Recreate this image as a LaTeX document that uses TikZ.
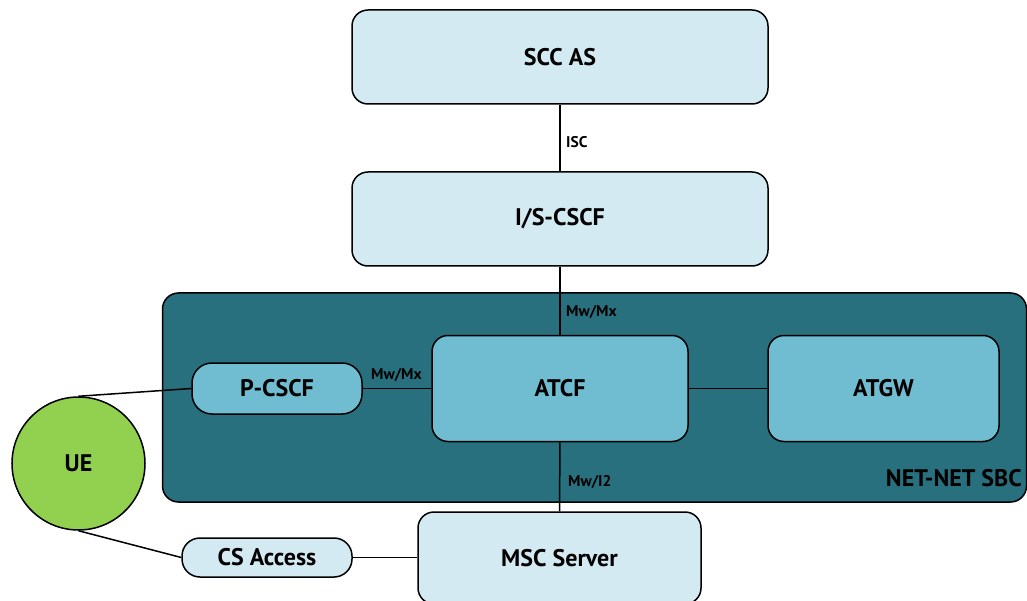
\documentclass[tikz,border=0pt]{standalone}
\usepackage{fontspec}
\setmainfont{PT Sans}
\definecolor{lightbox}{HTML}{D3EAF2}
\definecolor{midbox}{HTML}{70BCD1}
\definecolor{sbcfill}{HTML}{28707E}
\definecolor{uegreen}{HTML}{92D050}
\begin{document}
\begin{tikzpicture}[x=1pt,y=-1pt,
  box/.style={draw=black, line width=1.5pt, rounded corners=16pt, align=center, inner sep=0pt, font=\fontsize{24}{26}\selectfont\bfseries},
  lbox/.style={box, fill=lightbox},
  mbox/.style={box, fill=midbox},
  conn/.style={line width=1.5pt, draw=black},
  iflabel/.style={font=\fontsize{15.5}{17}\selectfont\bfseries, anchor=west, inner sep=0pt}
]
\useasboundingbox (0,0) rectangle (1027,601);
% SBC container
\node[draw=black, line width=1.5pt, fill=sbcfill, rounded corners=16pt, minimum width=864pt, minimum height=209pt, inner sep=0pt] (sbc) at (594.5,397.5) {};
\node[anchor=east, inner sep=0pt, font=\fontsize{24}{26}\selectfont\bfseries] (sbclabel) at (1022,478) {NET-NET SBC};
% boxes
\node[lbox, minimum width=416pt, minimum height=94pt] (scc) at (560,57) {SCC AS};
\node[lbox, minimum width=416pt, minimum height=94pt] (iscscf) at (560,219) {I/S-CSCF};
\node[mbox, minimum width=256pt, minimum height=106pt] (atcf) at (560,388.5) {ATCF};
\node[mbox, minimum width=231pt, minimum height=106pt] (atgw) at (883.5,388.5) {ATGW};
\node[mbox, minimum width=170pt, minimum height=51pt, rounded corners=20pt] (pcscf) at (277,388.5) {P-CSCF};
\node[lbox, minimum width=283pt, minimum height=92pt] (msc) at (559.5,558) {MSC Server};
\node[lbox, minimum width=170pt, minimum height=39pt, rounded corners=18pt] (cs) at (267,557.5) {CS Access};
\node[draw=black, line width=1.5pt, fill=uegreen, circle, minimum size=133pt, inner sep=0pt, font=\fontsize{24}{26}\selectfont\bfseries] (ue) at (78.5,463.5) {UE};
% connectors
\draw[conn] (scc) -- (iscscf);
\draw[conn] (iscscf) -- (atcf);
\draw[conn] (pcscf) -- (atcf);
\draw[conn] (atcf) -- (atgw);
\draw[conn] (atcf) -- (msc);
\draw[conn] (cs.east) -- (msc.west |- cs.east);
\draw[conn] (ue.north) -- (pcscf.west);
\draw[conn] (ue.south) -- (cs.west);
% labels
\node[iflabel] (lisc) at (566,142) {ISC};
\node[iflabel] (lmw1) at (566,312) {Mw/Mx};
\node[iflabel] (lmw2) at (371,375) {Mw/Mx};
\node[iflabel] (li2) at (568,482) {Mw/I2};
\end{tikzpicture}
\end{document}
